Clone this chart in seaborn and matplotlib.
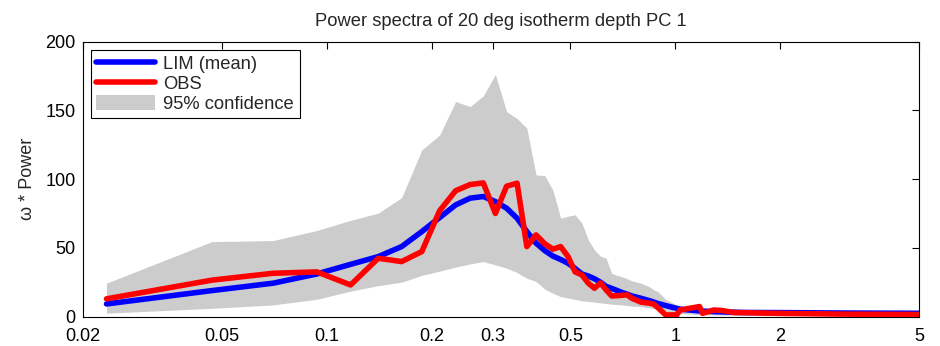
import numpy as np
import pandas as pd
import matplotlib
matplotlib.use("Agg")
import matplotlib.pyplot as plt
import seaborn as sns
from matplotlib.patches import Patch
from matplotlib.lines import Line2D

# frequencies (cycles / year) of the points
freq = [0.0234, 0.0469, 0.0703, 0.0938, 0.1172, 0.1406, 0.1641, 0.1875, 0.2109, 0.2344,
        0.2578, 0.2813, 0.3047, 0.3281, 0.3516, 0.3750, 0.3984, 0.4219, 0.4453, 0.4688,
        0.4922, 0.5156, 0.5391, 0.5625, 0.5859, 0.6094, 0.6328, 0.6563, 0.6797, 0.7031,
        0.7266, 0.7500, 0.7969, 0.8438, 0.8672, 0.8906, 0.9375, 1.0078, 1.0313, 1.1719,
        1.1953, 1.2891, 1.3594, 1.4766, 1.5469, 1.9922, 3.0000, 5.0000]

# LIM mean spectrum (omega * power)
lim_mean = [9.2, 18.9, 24.3, 31.0, 38.0, 43.6, 50.9, 61.8, 72.0, 81.2,
            86.1, 87.3, 83.6, 78.8, 71.5, 61.8, 53.4, 48.0, 44.0, 41.5,
            38.8, 35.0, 31.0, 29.5, 27.5, 25.0, 22.0, 20.5, 19.0, 17.5,
            16.3, 15.0, 13.3, 11.5, 10.5, 9.5, 8.0, 6.0, 5.4, 4.1,
            4.0, 3.6, 3.4, 3.2, 3.0, 2.9, 2.6, 2.4]

# observed spectrum
obs = [12.9, 26.5, 31.5, 32.5, 23.0, 42.4, 40.0, 47.3, 77.0, 91.5,
       96.0, 97.2, 75.0, 94.8, 97.0, 50.9, 59.4, 53.0, 49.0, 50.9,
       43.6, 32.5, 30.3, 24.3, 20.6, 24.5, 19.4, 15.0, 15.2, 15.5,
       15.8, 13.3, 10.5, 9.7, 9.0, 6.5, 1.2, 1.2, 4.8, 7.3,
       2.4, 4.8, 4.4, 2.9, 2.9, 2.3, 1.8, 1.5]

# 95% confidence band of the LIM
conf_hi = [24.3, 54.5, 55.3, 62.6, 70.0, 75.2, 86.5, 121.2, 132.0, 156.4,
           152.7, 160.5, 176.0, 149.0, 144.0, 137.0, 103.0, 102.5, 92.0, 71.5,
           73.0, 74.0, 68.0, 55.8, 48.5, 44.0, 42.4, 31.5, 30.0, 29.0,
           27.5, 26.0, 24.3, 21.5, 19.4, 18.2, 12.5, 8.5, 7.5, 6.1,
           5.5, 4.5, 4.0, 3.6, 3.4, 3.2, 3.0, 2.8]
conf_lo = [2.5, 6.0, 8.5, 12.6, 18.5, 22.5, 25.0, 30.0, 33.0, 36.0,
           38.3, 40.0, 37.6, 35.2, 32.0, 27.9, 25.5, 20.0, 17.0, 14.5,
           13.5, 12.5, 11.5, 11.0, 10.5, 10.0, 9.5, 9.0, 8.8, 8.5,
           8.0, 7.6, 7.3, 6.3, 5.8, 5.4, 4.0, 2.5, 2.2, 1.5,
           1.4, 1.2, 1.1, 1.0, 1.0, 1.0, 1.0, 1.0]

xticks = [0.02, 0.05, 0.1, 0.2, 0.3, 0.5, 1, 2, 5]
xticklabels = ["0.02", "0.05", "0.1", "0.2", "0.3", "0.5", "1", "2", "5"]

df = pd.DataFrame({"freq": freq, "lim": lim_mean, "obs": obs, "hi": conf_hi, "lo": conf_lo})

sns.set_style("white")
plt.rcParams["font.family"] = ["Liberation Sans", "DejaVu Sans"]

fig = plt.figure(figsize=(9.4, 3.46), dpi=100)
ax = fig.add_axes([0.088, 0.085, 0.890, 0.795])

gray = "#cccccc"
ax.fill_between(df["freq"], df["lo"], df["hi"], color=gray, linewidth=0, zorder=1)
sns.lineplot(data=df, x="freq", y="lim", color="#0000ff", linewidth=4.0, ax=ax, zorder=2)
sns.lineplot(data=df, x="freq", y="obs", color="#ff0000", linewidth=4.0, ax=ax, zorder=3)

ax.set_xscale("log")
ax.set_xlim(0.02, 5)
ax.set_ylim(0, 200)
ax.set_xticks(xticks)
ax.set_xticklabels(xticklabels)
ax.minorticks_off()
ax.set_yticks([0, 50, 100, 150, 200])

ax.tick_params(axis="both", direction="in", length=5, width=0.8, labelsize=13,
               top=True, right=True, colors="black")
ax.tick_params(axis="x", pad=8)
ax.tick_params(axis="y", pad=5)
for s in ax.spines.values():
    s.set_visible(True)
    s.set_color("black")
    s.set_linewidth(0.8)

ax.set_xlabel("")
ax.set_ylabel("ω * Power", fontsize=13, labelpad=7)
ax.set_title("Power spectra of 20 deg isotherm depth PC 1", fontsize=13.2, pad=11)

handles = [Line2D([0], [0], color="#0000ff", linewidth=4.0),
           Line2D([0], [0], color="#ff0000", linewidth=4.0),
           Patch(facecolor=gray, edgecolor="none")]
leg = ax.legend(handles, ["LIM (mean)", "OBS", "95% confidence"], loc="upper left",
                fontsize=13.2, handlelength=3.2, handleheight=0.85, borderaxespad=0.45,
                fancybox=False, framealpha=1, edgecolor="black", labelspacing=0.12,
                borderpad=0.3, handletextpad=0.45)
leg.get_frame().set_linewidth(0.8)

fig.savefig("out.png", dpi=100)
